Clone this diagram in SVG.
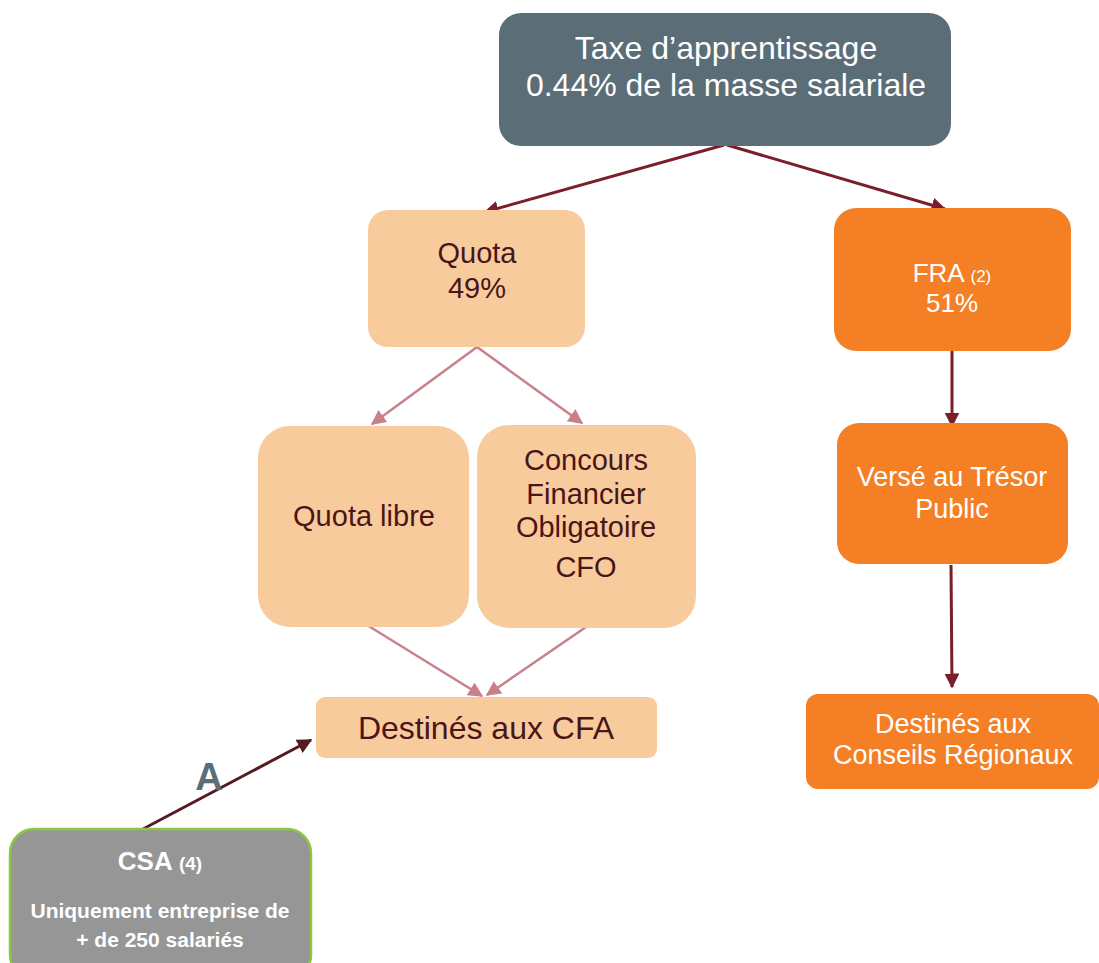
<svg xmlns="http://www.w3.org/2000/svg" width="1099" height="963" viewBox="0 0 1099 963">
<style>
text{font-family:'Liberation Sans','Arimo',Arial,Helvetica,sans-serif}
.t{text-anchor:middle}
.w{fill:#ffffff}
.d{fill:#4a1518}
.light{fill:#f8cb9c}
.orange{fill:#f47f24}
</style>
<defs>
<marker id="ad" viewBox="0 0 10 10" refX="9" refY="5" markerWidth="5" markerHeight="5" orient="auto" markerUnits="strokeWidth"><path d="M0,0L10,5L0,10z" fill="#7a1f2a"/></marker>
<marker id="ap" viewBox="0 0 10 10" refX="9" refY="5" markerWidth="6" markerHeight="6" orient="auto" markerUnits="strokeWidth"><path d="M0,0L10,5L0,10z" fill="#c98089"/></marker>
<marker id="ak" viewBox="0 0 10 10" refX="9" refY="5" markerWidth="5" markerHeight="5" orient="auto" markerUnits="strokeWidth"><path d="M0,0L10,5L0,10z" fill="#561a20"/></marker>
</defs>
<rect width="1099" height="963" fill="#ffffff"/>
<g id="connectors" fill="none">
<line x1="724" y1="145" x2="485" y2="212" stroke="#7a1f2a" stroke-width="3" marker-end="url(#ad)"/>
<line x1="727" y1="145" x2="945" y2="209" stroke="#7a1f2a" stroke-width="3" marker-end="url(#ad)"/>
<line x1="477" y1="347" x2="372" y2="424" stroke="#c98089" stroke-width="2.5" marker-end="url(#ap)"/>
<line x1="477" y1="347" x2="582" y2="423" stroke="#c98089" stroke-width="2.5" marker-end="url(#ap)"/>
<line x1="367" y1="625" x2="482" y2="696" stroke="#c98089" stroke-width="2.5" marker-end="url(#ap)"/>
<line x1="586" y1="627" x2="487" y2="695" stroke="#c98089" stroke-width="2.5" marker-end="url(#ap)"/>
<line x1="952" y1="351" x2="952" y2="426" stroke="#7a1f2a" stroke-width="3" marker-end="url(#ad)"/>
<line x1="951" y1="565" x2="952" y2="687" stroke="#7a1f2a" stroke-width="3" marker-end="url(#ad)"/>
<line x1="143" y1="829" x2="311" y2="740" stroke="#561a20" stroke-width="3" marker-end="url(#ak)"/>
</g>
<g id="taxe">
<rect x="499" y="13" width="452" height="133" rx="22" fill="#5b6e78"/>
<text class="t w" x="726" y="59" font-size="32">Taxe d’apprentissage</text>
<text class="t w" x="726" y="96" font-size="32">0.44% de la masse salariale</text>
</g>
<g id="quota">
<rect x="368" y="210" width="217" height="137" rx="20" class="light"/>
<text class="t d" x="477" y="263" font-size="29">Quota</text>
<text class="t d" x="477" y="298" font-size="29">49%</text>
</g>
<g id="fra">
<rect x="834" y="208" width="237" height="143" rx="22" class="orange"/>
<text class="t w" x="952" y="282" font-size="26">FRA <tspan font-size="17">(2)</tspan></text>
<text class="t w" x="952" y="312" font-size="26">51%</text>
</g>
<g id="quota-libre">
<rect x="258" y="426" width="211" height="201" rx="32" class="light"/>
<text class="t d" x="364" y="526" font-size="29">Quota libre</text>
</g>
<g id="cfo">
<rect x="477" y="425" width="219" height="203" rx="32" class="light"/>
<text class="t d" x="586" y="470" font-size="29">Concours</text>
<text class="t d" x="586" y="504" font-size="29">Financier</text>
<text class="t d" x="586" y="537" font-size="29">Obligatoire</text>
<text class="t d" x="586" y="577" font-size="29">CFO</text>
</g>
<g id="cfa">
<rect x="316" y="697" width="341" height="61" rx="9" class="light"/>
<text class="t d" x="486" y="739" font-size="32">Destinés aux CFA</text>
</g>
<g id="tresor">
<rect x="837" y="423" width="231" height="141" rx="22" class="orange"/>
<text class="t w" x="952" y="486" font-size="27">Versé au Trésor</text>
<text class="t w" x="952" y="518" font-size="27">Public</text>
</g>
<g id="regions">
<rect x="806" y="694" width="293" height="95" rx="12" class="orange"/>
<text class="t w" x="953" y="733" font-size="27">Destinés aux</text>
<text class="t w" x="953" y="764" font-size="27">Conseils Régionaux</text>
</g>
<g id="csa">
<rect x="10" y="829" width="301" height="150" rx="24" fill="#969696" stroke="#8dc63f" stroke-width="2.5"/>
<text class="t w" x="160" y="870" font-size="26" font-weight="bold">CSA <tspan font-size="19">(4)</tspan></text>
<text class="t w" x="160" y="918" font-size="21" font-weight="bold">Uniquement entreprise de</text>
<text class="t w" x="160" y="947" font-size="21" font-weight="bold">+ de 250 salariés</text>
</g>
<g id="label-a">
<text class="t" x="209" y="790" font-size="38" font-weight="bold" fill="#5b6e78">A</text>
</g>
</svg>
